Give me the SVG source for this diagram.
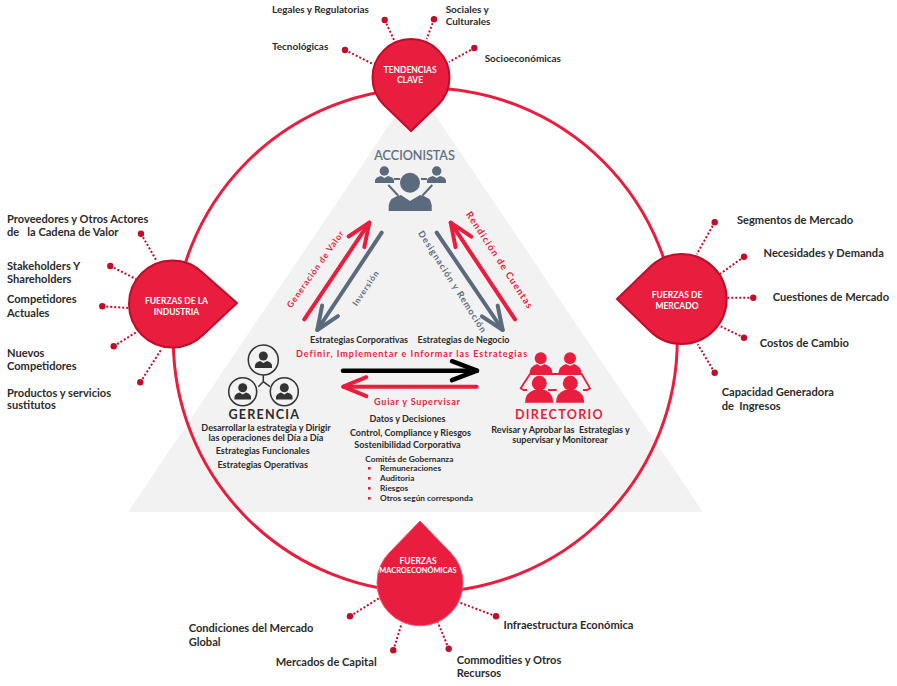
<svg xmlns="http://www.w3.org/2000/svg" width="897" height="686" viewBox="0 0 897 686">
<style>
text{font-family:Lato,"Noto Sans",sans-serif;font-weight:700;fill:#2b2b2b}
.l{font-size:11.1px}
.t{font-size:9.95px}
.s{font-size:9.05px}
.xs{font-size:8.3px}
.c{text-anchor:middle}
.w{fill:#fff;font-size:8.5px;text-anchor:middle}
.r{fill:#e91d3e;font-size:9px;letter-spacing:1px}
.g{fill:#5b6b7d;font-size:9px;letter-spacing:1px}
.pin{fill:#e91d3e;stroke:#c00d2a;stroke-width:2}
.dot{stroke:#c00d2a;stroke-width:2;stroke-dasharray:2 2;fill:none}
.d{fill:#c00d2a}
.ar{fill:none;stroke-width:4;stroke-linecap:round}
.ig{fill:#5b6b7d}
.ik{fill:#333}
.ir{fill:#e91d3e}
.ci{fill:none;stroke:#333;stroke-width:1.5}
</style>
<defs>
<marker id="hr" markerUnits="userSpaceOnUse" markerWidth="40" markerHeight="40" refX="30" refY="15" orient="auto" overflow="visible"><path d="M7 5.5L30 15L7 24.5" fill="none" stroke="#e91d3e" stroke-width="4" stroke-linecap="round" stroke-linejoin="round"/></marker>
<marker id="hg" markerUnits="userSpaceOnUse" markerWidth="40" markerHeight="40" refX="30" refY="15" orient="auto" overflow="visible"><path d="M7 5.5L30 15L7 24.5" fill="none" stroke="#5b6b7d" stroke-width="4" stroke-linecap="round" stroke-linejoin="round"/></marker>
<marker id="hk" markerUnits="userSpaceOnUse" markerWidth="40" markerHeight="40" refX="30" refY="15" orient="auto" overflow="visible"><path d="M5 5.5L30 15L5 24.5" fill="none" stroke="#000" stroke-width="4.5" stroke-linecap="round" stroke-linejoin="round"/></marker>
</defs>
<rect width="897" height="686" fill="#fff"/>
<path id="triangle" d="M415.5 86L703 512H128Z" fill="#f2f2f2"/>
<circle id="ring" cx="425.3" cy="340" r="252" fill="none" stroke="#e91d3e" stroke-width="3"/>
<g id="connectors">
<g>
<path class="dot" d="M384.7 20L394 40M434 19.3L426.7 39M345 50L373 64M474.3 48L449 62"/>
<path class="dot" d="M141 233.7L156.7 261M110.3 266L136 279M102.3 306.3L130 308M113.7 346.3L137.7 331.3M140.3 382.3L161.3 349.3"/>
<path class="dot" d="M714.7 222.3L696.7 254.3M744 256.7L720 274M753.3 297.7H727.3M744 337.7L720 326M714.7 372.7L697.7 344.3"/>
<path class="dot" d="M350 616.3L378.7 598.3M393.3 650.3L401.7 623.3M448.7 648.7L437.7 622M496 616.3L458.3 602"/>
</g>
<g class="d">
<circle cx="384.7" cy="20" r="3.2"/><circle cx="434" cy="19.3" r="3.2"/><circle cx="345" cy="50" r="3.2"/><circle cx="474.3" cy="48" r="3.2"/>
<circle cx="141" cy="233.7" r="3.2"/><circle cx="110.3" cy="266" r="3.2"/><circle cx="102.3" cy="306.3" r="3.2"/><circle cx="113.7" cy="346.3" r="3.2"/><circle cx="140.3" cy="382.3" r="3.2"/>
<circle cx="714.7" cy="222.3" r="3.2"/><circle cx="744" cy="256.7" r="3.2"/><circle cx="753.3" cy="297.7" r="3.2"/><circle cx="744" cy="337.7" r="3.2"/><circle cx="714.7" cy="372.7" r="3.2"/>
<circle cx="350" cy="616.3" r="3.2"/><circle cx="393.3" cy="650.3" r="3.2"/><circle cx="448.7" cy="648.7" r="3.2"/><circle cx="496" cy="616.3" r="3.2"/>
</g>
<path class="ar" stroke="#e91d3e" marker-end="url(#hr)" d="M304.3 319.3L369.3 222.7"/>
<path class="ar" stroke="#5b6b7d" marker-end="url(#hg)" d="M381.7 232.7L317.3 330"/>
<path class="ar" stroke="#e91d3e" marker-end="url(#hr)" d="M515 319.3L450.7 222.7"/>
<path class="ar" stroke="#5b6b7d" marker-end="url(#hg)" d="M436.7 232.7L502.7 330"/>
<path class="ar" stroke="#000" style="stroke-width:4.5" marker-end="url(#hk)" d="M343 370.7H477"/>
<path class="ar" stroke="#e91d3e" marker-end="url(#hr)" d="M476.7 386.7H343.3"/>
<text class="r c" style="font-size:8.6px;letter-spacing:.8px" transform="translate(315.5 269) rotate(-54.8)" y="3">Generación de Valor</text>
<text class="g c" style="font-size:8.2px;letter-spacing:.8px" transform="translate(365.6 288) rotate(-56)" y="3">Inversión</text>
<text class="g c" transform="translate(452.5 282) rotate(57.5)" y="3">Designación y Remoción</text>
<text class="r c" style="font-size:9.5px;letter-spacing:1.15px" transform="translate(499.5 260.5) rotate(56.7)" y="3">Rendición de Cuentas</text>
<text class="r" x="296" y="357">Definir, Implementar e Informar las Estrategias</text>
<text class="r" x="374" y="405" style="letter-spacing:.8px">Guiar y Supervisar</text>
</g>
<g id="tendencias">
<path class="pin" d="M411 131L384 105A38.5 38.5 0 1 1 438 105Z"/>
<text class="w" x="410" y="73">TENDENCIAS</text><text class="w" x="410" y="83">CLAVE</text>
<text class="t" x="272" y="13">Legales y Regulatorias</text>
<text class="t" x="272" y="50">Tecnológicas</text>
<text class="t" x="445.7" y="12.5">Sociales y</text><text class="t" x="445.7" y="24.5">Culturales</text>
<text class="t" x="484.7" y="62">Socioeconómicas</text>
</g>
<g id="industria">
<path class="pin" d="M237 303L203 335A43.5 43.5 0 1 1 203 273Z"/>
<text class="w" x="176.5" y="304">FUERZAS DE LA</text><text class="w" x="176.5" y="315">INDUSTRIA</text>
<text class="l" x="7" y="223">Proveedores y Otros Actores</text><text class="l" x="7" y="236" xml:space="preserve">de   la Cadena de Valor</text>
<text class="l" x="7" y="270">Stakeholders Y</text><text class="l" x="7" y="283">Shareholders</text>
<text class="l" x="7" y="303">Competidores</text><text class="l" x="7" y="316.5">Actuales</text>
<text class="l" x="7" y="357">Nuevos</text><text class="l" x="7" y="370">Competidores</text>
<text class="l" x="7" y="396.5">Productos y servicios</text><text class="l" x="7" y="409">sustitutos</text>
</g>
<g id="mercado">
<path class="pin" d="M617 299L650 267A45 45 0 1 1 650 331Z"/>
<text class="w" x="677" y="298">FUERZAS DE</text><text class="w" x="677" y="309">MERCADO</text>
<text class="l" x="737" y="224">Segmentos de Mercado</text>
<text class="l" x="763.5" y="257">Necesidades y Demanda</text>
<text class="l" x="772.7" y="301">Cuestiones de Mercado</text>
<text class="l" x="759.7" y="347">Costos de Cambio</text>
<text class="l" x="721.7" y="396">Capacidad Generadora</text><text class="l" x="721.7" y="410" xml:space="preserve">de  Ingresos</text>
</g>
<g id="macroeconomicas">
<path class="pin" style="stroke:#f0506a;stroke-width:1" d="M420 521L450 552A43 43 0 1 1 390 552Z"/>
<text class="w" x="418" y="564">FUERZAS</text><text class="w" x="418" y="573" style="font-size:7.4px">MACROECONÓMICAS</text>
<text class="l" x="188.7" y="632">Condiciones del Mercado</text><text class="l" x="188.7" y="645.5">Global</text>
<text class="l" x="275.7" y="666">Mercados de Capital</text>
<text class="l" x="456.7" y="664">Commodities y Otros</text><text class="l" x="456.7" y="677">Recursos</text>
<text class="l" x="503.5" y="629">Infraestructura Económica</text>
</g>
<g id="accionistas">
<text x="414.5" y="160" class="c" style="font-size:12.6px;font-weight:400;fill:#5b6b7d;stroke:#5b6b7d;stroke-width:.2">ACCIONISTAS</text>
<circle class="ig" cx="410" cy="182.7" r="10"/><path class="ig" d="M388.7 211V205Q390 197 401 195L410 201L420 195Q431 197 431.7 205V211Z"/>
<circle class="ig" cx="384.3" cy="171" r="4.7"/><path class="ig" d="M375 183V180Q376 177 381 176L384.5 178L388 176Q393 177 394 180V183Z"/>
<circle class="ig" cx="436.7" cy="171" r="4.7"/><path class="ig" d="M427 183V180Q428 177 433 176L436.7 178L440 176Q445 177 446 180V183Z"/>
<path d="M394 179H400M388.3 185L398.3 195.7M421 179H427M432.3 185L422.3 195.7" stroke="#5b6b7d" stroke-width="2" fill="none"/>
</g>
<g id="gerencia">
<circle class="ci" cx="263.3" cy="360" r="15"/><circle class="ci" cx="242.7" cy="391.7" r="14"/><circle class="ci" cx="284.3" cy="391.7" r="14"/>
<path class="ci" d="M263.3 375V381.7L258.3 386.7M263.3 381.7L270 386.7"/>
<g class="ik">
<circle cx="263.3" cy="356" r="4.5"/><path d="M255 368V365Q256 362 260 361L263.3 363L267 361Q271 362 272 365V368Z"/>
<circle cx="242.7" cy="387.7" r="4.5"/><path d="M234.5 399.5V396.5Q235.5 393.5 239.5 392.5L242.7 394.5L246 392.5Q250 393.5 251 396.5V399.5Z"/>
<circle cx="284.3" cy="387.7" r="4.5"/><path d="M276 399.5V396.5Q277 393.5 281 392.5L284.3 394.5L287.5 392.5Q291.5 393.5 292.5 396.5V399.5Z"/>
</g>
<text x="264.3" y="419.3" class="c" style="font-size:12.6px;letter-spacing:1.2px">GERENCIA</text>
<text class="s c" x="266" y="431">Desarrollar la estrategia y Dirigir</text>
<text class="s c" x="266" y="441">las operaciones del Día a Día</text>
<text class="s c" x="262.7" y="454.3">Estrategias Funcionales</text>
<text class="s c" x="262.7" y="467.7">Estrategias Operativas</text>
</g>
<g id="directorio">
<g class="ir">
<circle cx="540.7" cy="358.3" r="6"/><path d="M529.3 374Q530 366 537 364L540.7 366L544.5 364Q552 366 552.7 374Z"/>
<circle cx="570" cy="358.3" r="6"/><path d="M558.3 374Q559 366 566 364L570 366L574 364Q581 366 581.7 374Z"/>
<circle cx="539.3" cy="383.3" r="7.5"/><path d="M525 402.7Q525 393 534 390H545Q553 393 553.3 402.7Z"/>
<circle cx="570.3" cy="383.3" r="7.5"/><path d="M556 402.7Q556 393 565 390H576Q584 393 584.3 402.7Z"/>
</g>
<path d="M548 390H556.7M530 374H581.7L590 388.3L587 390H583M530 374L520.7 388.3L523.5 390H527" fill="none" stroke="#e91d3e" stroke-width="1.8"/>
<text x="559.5" y="419" class="c" style="font-size:12.6px;letter-spacing:1.3px;fill:#e91d3e">DIRECTORIO</text>
<text class="s c" x="560.5" y="432.5" xml:space="preserve">Revisar y Aprobar las  Estrategias y</text>
<text class="s c" x="560" y="442.5">supervisar y Monitorear</text>
</g>
<g id="estrategias">
<text class="s" x="310" y="342.7">Estrategias Corporativas</text>
<text class="s" x="417.5" y="342.7">Estrategias de Negocio</text>
</g>
<g id="informacion">
<text class="s c" x="407.5" y="422">Datos y Decisiones</text>
<text class="s c" x="410.5" y="436">Control, Compliance y Riesgos</text>
<text class="s c" x="407.5" y="447.7">Sostenibilidad Corporativa</text>
<text class="xs c" x="409.3" y="461.7">Comités de Gobernanza</text>
<g class="ir"><rect x="368" y="467" width="2.6" height="2.6"/><rect x="368" y="477" width="2.6" height="2.6"/><rect x="368" y="487" width="2.6" height="2.6"/><rect x="368" y="497" width="2.6" height="2.6"/></g>
<text class="xs" x="380" y="471">Remuneraciones</text>
<text class="xs" x="380" y="481">Auditoria</text>
<text class="xs" x="380" y="491">Riesgos</text>
<text class="xs" x="380" y="501">Otros según corresponda</text>
</g>
</svg>
